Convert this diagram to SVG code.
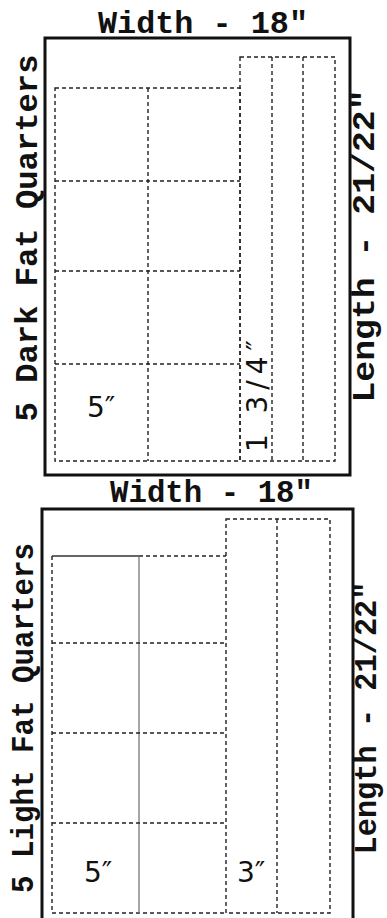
<svg xmlns="http://www.w3.org/2000/svg" width="387" height="918" viewBox="0 0 387 918">
<style>
.bg{fill:#fff}
.frame{fill:none;stroke:#111;stroke-width:3}
.cut{fill:none;stroke:#222;stroke-width:1.4;stroke-dasharray:4 3}
.solid{fill:none;stroke:#333;stroke-width:1.3}
.grey{fill:none;stroke:#777;stroke-width:1.3}
.lab{font-family:"Liberation Mono","Courier New",monospace;font-weight:bold;font-size:32px;fill:#111}
.dim{font-family:"DejaVu Sans","Noto Sans",sans-serif;font-size:28px;fill:#111}
</style>
<rect class="bg" x="0" y="0" width="387" height="918"/>
<g id="dark-panel">
<text class="lab" x="98" y="33" textLength="210" lengthAdjust="spacingAndGlyphs">Width - 18″</text>
<rect class="frame" x="45" y="38" width="305" height="437"/>
<text class="lab" transform="translate(37,238) rotate(-90)" text-anchor="middle" textLength="367" lengthAdjust="spacingAndGlyphs">5 Dark Fat Quarters</text>
<text class="lab" transform="translate(374,246) rotate(-90)" text-anchor="middle" textLength="313" lengthAdjust="spacingAndGlyphs">Length - 21/22″</text>
</g>
<g id="dark-squares">
<rect class="cut" x="55" y="88" width="185" height="373"/>
<line class="cut" x1="148" y1="88" x2="148" y2="461"/>
<line class="cut" x1="55" y1="181" x2="240" y2="181"/>
<line class="cut" x1="55" y1="271" x2="240" y2="271"/>
<line class="cut" x1="55" y1="364" x2="240" y2="364"/>
<text class="dim" x="87" y="417">5″</text>
</g>
<g id="dark-strips">
<rect class="cut" x="240" y="57" width="95" height="404"/>
<line class="cut" x1="272" y1="57" x2="272" y2="461"/>
<line class="cut" x1="303" y1="57" x2="303" y2="461"/>
<text class="dim" transform="translate(267,452) rotate(-90)" textLength="112" lengthAdjust="spacing">1 3/4″</text>
</g>
<g id="light-panel">
<text class="lab" x="110" y="502" textLength="203" lengthAdjust="spacingAndGlyphs">Width - 18″</text>
<path class="frame" d="M42,925 V509 H353 V925"/>
<text class="lab" transform="translate(33,718) rotate(-90)" text-anchor="middle" textLength="350" lengthAdjust="spacingAndGlyphs">5 Light Fat Quarters</text>
<text class="lab" transform="translate(376,718) rotate(-90)" text-anchor="middle" textLength="273" lengthAdjust="spacingAndGlyphs">Length - 21/22″</text>
</g>
<g id="light-squares">
<line class="solid" x1="52" y1="556" x2="139" y2="556"/>
<line class="cut" x1="139" y1="556" x2="226" y2="556"/>
<line class="cut" x1="52" y1="556" x2="52" y2="913"/>
<line class="cut" x1="52" y1="913" x2="226" y2="913"/>
<line class="grey" x1="139" y1="556" x2="139" y2="913"/>
<line class="cut" x1="52" y1="643" x2="226" y2="643"/>
<line class="cut" x1="52" y1="733" x2="226" y2="733"/>
<line class="cut" x1="52" y1="823" x2="226" y2="823"/>
<text class="dim" x="84" y="882">5″</text>
</g>
<g id="light-strips">
<rect class="cut" x="226" y="519" width="104" height="394"/>
<line class="cut" x1="277" y1="519" x2="277" y2="913"/>
<text class="dim" x="237" y="882">3″</text>
</g>
<g id="connectors"></g>
</svg>
